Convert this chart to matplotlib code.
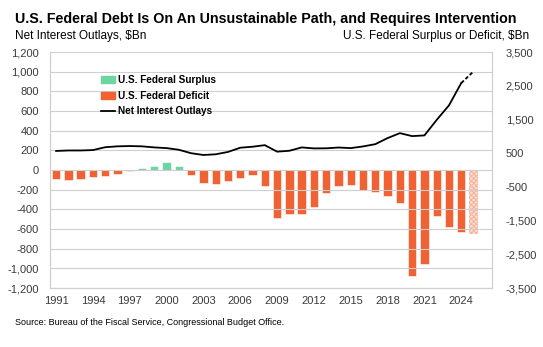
import numpy as np
import matplotlib.pyplot as plt
from matplotlib.patches import Patch
from matplotlib.lines import Line2D

plt.rcParams['font.family'] = ['Liberation Sans', 'DejaVu Sans']
plt.rcParams['hatch.linewidth'] = 0.8

years = list(range(1991, 2026))

# surplus (+) / deficit (-), $Bn; 2025 is a projection
balance = [-269, -290, -255, -203, -164, -107, -22, 69, 126, 236, 128, -158,
           -378, -413, -318, -248, -161, -459, -1413, -1294, -1300, -1087,
           -680, -485, -442, -585, -665, -779, -984, -3132, -2775, -1375,
           -1695, -1833, -1900]

# net interest outlays, $Bn
interest = [194, 199, 199, 203, 232, 241, 244, 241, 230, 223, 206, 171, 153,
            160, 184, 227, 237, 253, 187, 196, 230, 220, 221, 229, 223, 240,
            263, 325, 375, 345, 352, 510, 658, 885, 1003]

surplus_col = '#6fd4a3'
deficit_col = '#f06233'
proj_col = '#f8b49c'
grid_col = '#cfcfcf'

fig = plt.figure(figsize=(5.43, 3.47), dpi=100)
ax = fig.add_axes([0.092, 0.170, 0.814, 0.680])
ax2 = ax.twinx()

# bars on the right axis, line on the left one
ax.set_zorder(ax2.get_zorder() + 1)
ax.patch.set_visible(False)

for yr, v in zip(years, balance):
    if yr == 2025:
        ax2.bar(yr, v, width=0.68, color='#fde2d8', edgecolor=proj_col,
                hatch='xxxxxxx', linewidth=0)
    else:
        ax2.bar(yr, v, width=0.68, color=surplus_col if v > 0 else deficit_col,
                edgecolor='white', linewidth=0.4)

ax.plot(years[:-1], interest[:-1], color='black', lw=1.3)
ax.plot(years[-2:], interest[-2:], color='black', lw=1.3, ls=(0, (2, 1.2)))

ax.set_ylim(-1200, 1200)
ax.set_yticks(np.arange(-1200, 1201, 200))
ax.set_yticklabels([f'{t:,}' for t in range(-1200, 1201, 200)])
ax2.set_ylim(-3500, 3500)
ax2.set_yticks(np.arange(-3500, 3501, 1000))
ax2.set_yticklabels([f'{t:,}' for t in range(-3500, 3501, 1000)])
ax.set_xlim(1990.5, 2026.5)
ax.set_xticks(range(1991, 2025, 3))

ax.grid(axis='y', color=grid_col, lw=0.8)
ax.set_axisbelow(True)
ax2.grid(False)

for a in (ax, ax2):
    a.tick_params(length=0, labelsize=8, colors='#3a3a3a')
    a.spines['top'].set_visible(False)
    for s in ('left', 'right', 'bottom'):
        a.spines[s].set_color(grid_col)
        a.spines[s].set_linewidth(0.8)
ax.tick_params(axis='y', pad=8)
ax2.tick_params(axis='y', pad=10)
ax.tick_params(axis='x', pad=6)

handles = [Patch(color=surplus_col, label='U.S. Federal Surplus'),
           Patch(color=deficit_col, label='U.S. Federal Deficit'),
           Line2D([], [], color='black', lw=1.3, label='Net Interest Outlays')]
ax.legend(handles=handles, loc='upper left', bbox_to_anchor=(0.095, 0.94),
          frameon=False, prop={'weight': 'bold', 'size': 7.2},
          handlelength=1.4, handleheight=0.7, handletextpad=0.3,
          labelspacing=0.55)

fig.text(0.027, 0.945, 'U.S. Federal Debt Is On An Unsustainable Path, and Requires Intervention',
         fontsize=10.3, fontweight='bold', va='center')
fig.text(0.027, 0.895, 'Net Interest Outlays, $Bn', fontsize=8.5, va='center')
fig.text(0.975, 0.895, 'U.S. Federal Surplus or Deficit, $Bn', fontsize=8.5,
         va='center', ha='right')
fig.text(0.027, 0.07, 'Source: Bureau of the Fiscal Service, Congressional Budget Office.',
         fontsize=6.5, va='center')

fig.savefig('out.png', dpi=100)
